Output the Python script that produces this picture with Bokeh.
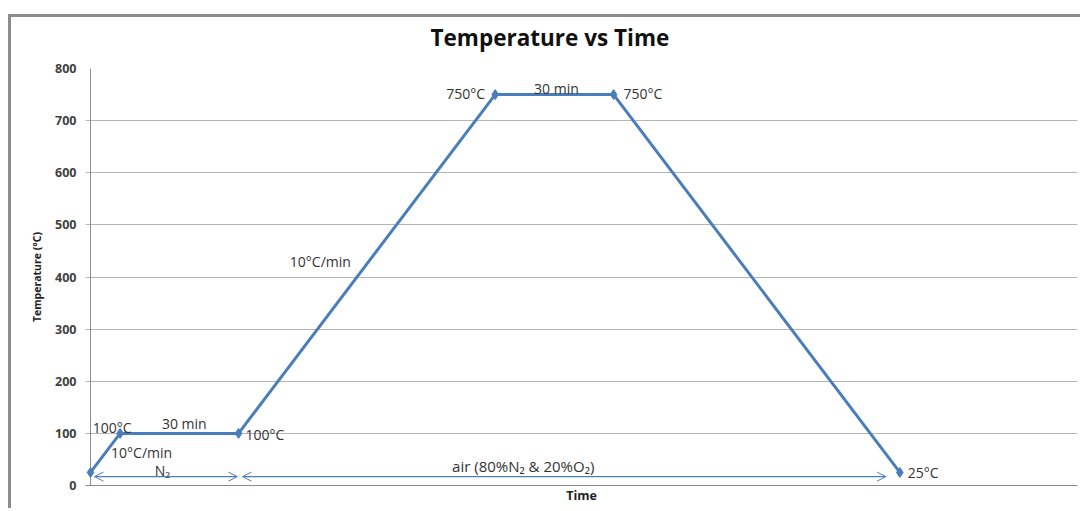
from bokeh.plotting import figure
from bokeh.models import Range1d, FixedTicker, Arrow, OpenHead, ColumnDataSource, Label, Title
from bokeh.core.properties import value
from bokeh.embed import file_html
from bokeh.resources import INLINE

# ---- data ----
times = [0, 7.5, 37.5, 102.5, 132.5, 205]          # minutes
temps = [25, 100, 100, 750, 750, 25]               # °C
y_ticks = [0, 100, 200, 300, 400, 500, 600, 700, 800]
point_labels = ["25°C", "100°C", "100°C", "750°C", "750°C", "25°C"]
rate_label = "10°C/min"
hold_label = "30 min"
gas1_label = "N₂"
gas2_label = "air (80%N₂ & 20%O₂)"
arrow_level = 17

LINE = "#4a7ebb"
TXT = "#333333"
FONT = "Open Sans"
TS = "14px"

p = figure(width=1072, height=494, output_backend="svg", toolbar_location=None,
           x_range=Range1d(-1.266, 250), y_range=Range1d(0, 800),
           min_border_left=74, min_border_right=6, min_border_top=51, min_border_bottom=26,
           title="Temperature vs Time")
p.styles = {"margin-left": "8px", "margin-top": "14px",
            "border-left": "3px solid #8c8c8c", "border-top": "3px solid #8c8c8c"}
p.outline_line_color = None
p.background_fill_color = "white"
p.border_fill_color = "white"

p.title.align = "left"
p.title.offset = 345
p.title.vertical_align = "bottom"
p.title.text_font = FONT
p.title.text_font_size = "22.5px"
p.title.text_font_style = "bold"
p.title.text_color = "#111111"
p.title.standoff = 0

# empty spacer between the title and the plot area
p.add_layout(Title(text=" ", text_font_size="12px", standoff=0), "above")

# axes
p.yaxis.ticker = FixedTicker(ticks=y_ticks)
p.yaxis.axis_label = "Temperature (°C)"
p.yaxis.axis_label_text_font = FONT
p.yaxis.axis_label_text_font_size = "10.5px"
p.yaxis.axis_label_text_font_style = "bold"
p.yaxis.axis_label_text_color = "#222222"
p.yaxis.axis_label_standoff = 8
p.yaxis.major_label_text_font = FONT
p.yaxis.major_label_text_font_size = "12.5px"
p.yaxis.major_label_text_font_style = "bold"
p.yaxis.major_label_text_color = "#404040"
p.yaxis.major_label_standoff = 9
p.yaxis.major_tick_out = 0
p.yaxis.major_tick_in = 0
p.yaxis.minor_tick_line_color = None
p.yaxis.axis_line_color = None
p.yaxis.major_tick_line_color = None

p.xaxis.ticker = FixedTicker(ticks=[])
p.xaxis.axis_label = "Time"
p.xaxis.axis_label_text_font = FONT
p.xaxis.axis_label_text_font_size = "12.5px"
p.xaxis.axis_label_text_font_style = "bold"
p.xaxis.axis_label_text_color = "#222222"
p.xaxis.axis_label_standoff = 1
p.xaxis.axis_line_color = "#8c8c8c"
p.xaxis.minor_tick_line_color = None
p.xaxis.major_tick_line_color = None

p.xgrid.grid_line_color = None
p.ygrid.ticker = FixedTicker(ticks=y_ticks)
p.ygrid.grid_line_color = "#b5b5b5"
p.ygrid.grid_line_width = 1

# vertical value axis line at t = 0
p.segment(x0=[times[0]], y0=[y_ticks[0]], x1=[times[0]], y1=[y_ticks[-1]],
          line_color="#8c8c8c", line_width=1)

# profile
src = ColumnDataSource(dict(t=times, T=temps))
p.line("t", "T", source=src, line_color=LINE, line_width=3)
p.scatter("t", "T", source=src, marker="diamond", size=10, color=LINE)

# arrows for gas atmosphere
p.add_layout(Arrow(start=OpenHead(size=9, line_color=LINE, line_width=1),
                   end=OpenHead(size=9, line_color=LINE, line_width=1),
                   x_start=times[0] + 1.0, x_end=times[2] - 0.3,
                   y_start=arrow_level, y_end=arrow_level,
                   line_color=LINE, line_width=1.2))
p.add_layout(Arrow(start=OpenHead(size=9, line_color=LINE, line_width=1),
                   end=OpenHead(size=9, line_color=LINE, line_width=1),
                   x_start=times[2] + 1.0, x_end=times[5] - 3.5,
                   y_start=arrow_level, y_end=arrow_level,
                   line_color=LINE, line_width=1.2))

def txt(x, y, s, align="left", xo=0, yo=0, size=TS):
    p.text(x=[x], y=[y], text=[s], text_align=align, text_baseline="middle",
           x_offset=xo, y_offset=yo, text_font=value(FONT), text_font_size=size,
           text_color=TXT)

# point labels (first one sits outside the plot frame -> Label annotation)
p.add_layout(Label(x=times[0], y=temps[0], text=point_labels[0], x_offset=-7,
                   text_align="right", text_baseline="middle", text_font=FONT,
                   text_font_size=TS, text_color=TXT))
txt(times[1], temps[1], point_labels[1], "center", -8, -6)
txt(times[2], temps[2], point_labels[2], "left", 7, 1)
txt(times[3], temps[3], point_labels[3], "right", -10, -1)
txt(times[4], temps[4], point_labels[4], "left", 10, -1)
txt(times[5], temps[5], point_labels[5], "left", 8, 0)

# segment labels
txt((times[1] + times[2]) / 2, temps[1], hold_label, "center", 5, -10)
txt((times[3] + times[4]) / 2, temps[3], hold_label, "center", 2, -6)
txt(times[1], temps[1], rate_label, "left", -9, 19)
txt((times[2] + times[3]) / 2, (temps[2] + temps[3]) / 2, rate_label, "right", -16, -2)

# gas labels
txt((times[0] + times[2]) / 2, arrow_level, gas1_label, "center", -2, -6)
txt((times[2] + times[5]) / 2, arrow_level, gas2_label, "center", -46, -11, "15px")

open("out.html", "w").write(file_html(p, INLINE))
